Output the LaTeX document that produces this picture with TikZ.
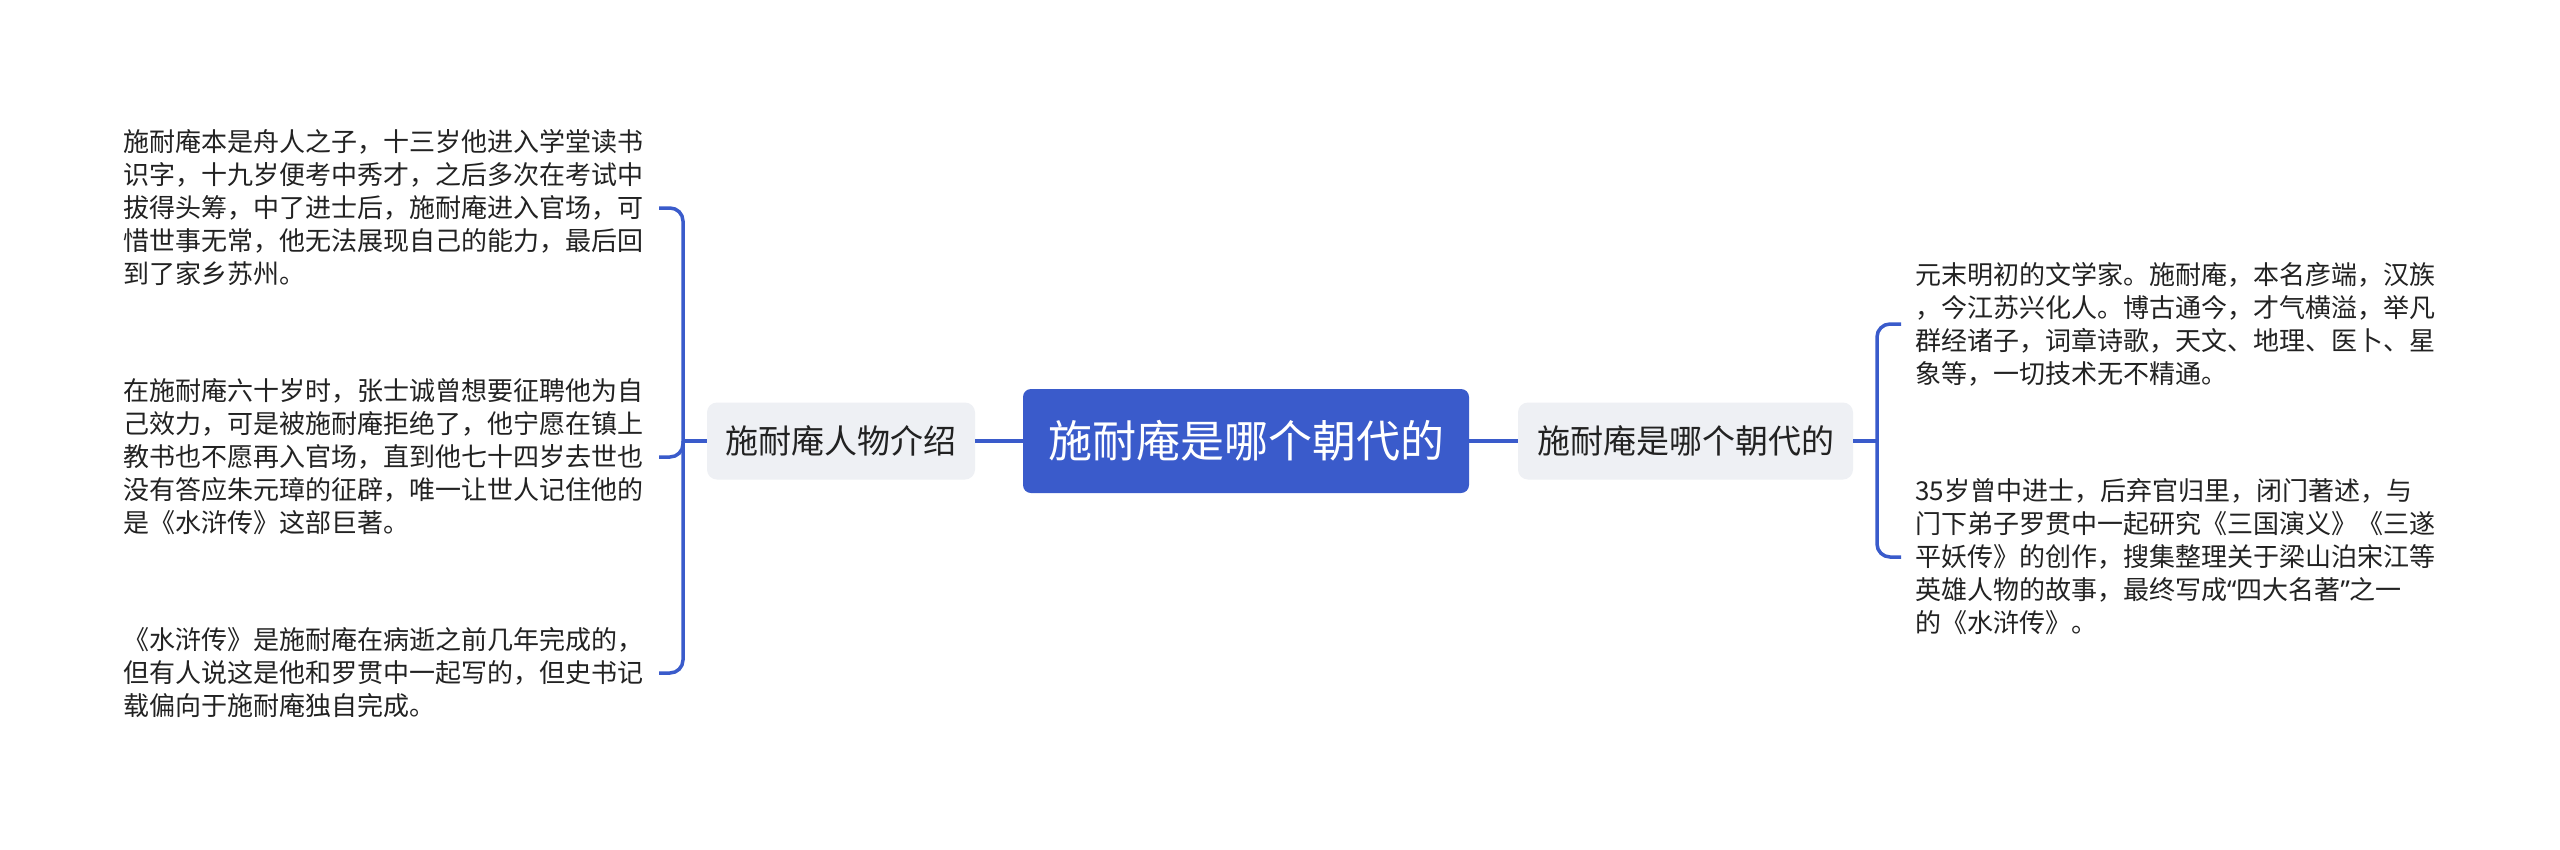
\documentclass[tikz,border=0pt]{standalone}
\usepackage{fontspec}
\setmainfont{Noto Sans CJK SC}
\newfontfamily\latinq{Noto Sans}
\definecolor{mblue}{HTML}{3A5BCB}
\definecolor{subgray}{HTML}{EEF0F4}
\definecolor{txt}{HTML}{222222}
\tikzset{
  mainnode/.style={fill=mblue, rounded corners=8pt, text=white, font=\fontsize{44}{50}\selectfont, minimum width=446pt, minimum height=104pt, inner sep=0pt},
  subnode/.style={fill=subgray, rounded corners=10pt, text=txt, font=\fontsize{33}{40}\selectfont, minimum height=77pt, inner sep=0pt},
  leafL/.style={anchor=east, align=left, inner xsep=15pt, inner ysep=0pt, text=txt, font=\fontsize{26}{33}\selectfont},
  leafR/.style={anchor=west, align=left, inner xsep=14pt, inner ysep=0pt, text=txt, font=\fontsize{26}{33}\selectfont},
  link/.style={draw=mblue, line width=3.5pt},
  bracelink/.style={link, rounded corners=13pt}
}
\begin{document}
\begin{tikzpicture}[x=1pt, y=-1pt]
\useasboundingbox[fill=white] (0,0) rectangle (2560,849);
\node[mainnode] (c) at (1246,441) {施耐庵是哪个朝代的};
\node[subnode, minimum width=268pt] (l) at (841,441) {施耐庵人物介绍};
\node[subnode, minimum width=335pt] (r) at (1685.5,441) {施耐庵是哪个朝代的};
\coordinate (jl) at (683,441);
\coordinate (jr) at (1877,441);
\node[leafL] (l1) at (659,208) {施耐庵本是舟人之子，十三岁他进入学堂读书\\识字，十九岁便考中秀才，之后多次在考试中\\拔得头筹，中了进士后，施耐庵进入官场，可\\惜世事无常，他无法展现自己的能力，最后回\\到了家乡苏州。};
\node[leafL] (l2) at (659,457) {在施耐庵六十岁时，张士诚曾想要征聘他为自\\己效力，可是被施耐庵拒绝了，他宁愿在镇上\\教书也不愿再入官场，直到他七十四岁去世也\\没有答应朱元璋的征辟，唯一让世人记住他的\\是《水浒传》这部巨著。};
\node[leafL] (l3) at (659,673) {《水浒传》是施耐庵在病逝之前几年完成的，\\但有人说这是他和罗贯中一起写的，但史书记\\载偏向于施耐庵独自完成。};
\node[leafR] (r1) at (1901,324) {元末明初的文学家。施耐庵，本名彦端，汉族\\，今江苏兴化人。博古通今，才气横溢，举凡\\群经诸子，词章诗歌，天文、地理、医卜、星\\象等，一切技术无不精通。};
\node[leafR] (r2) at (1901,557) {35岁曾中进士，后弃官归里，闭门著述，与\\门下弟子罗贯中一起研究《三国演义》《三遂\\平妖传》的创作，搜集整理关于梁山泊宋江等\\英雄人物的故事，最终写成{\latinq “}四大名著{\latinq ”}之一\\的《水浒传》。};
\draw[link] (c.west) -- (l.east);
\draw[link] (c.east) -- (r.west);
\draw[link] (l.west) -- (jl);
\draw[link] (r.east) -- (jr);
\draw[bracelink] (jl) |- (l1.east);
\draw[bracelink] (jl) |- (l2.east);
\draw[bracelink] (jl) |- (l3.east);
\draw[bracelink] (jr) |- (r1.west);
\draw[bracelink] (jr) |- (r2.west);
\end{tikzpicture}
\end{document}
